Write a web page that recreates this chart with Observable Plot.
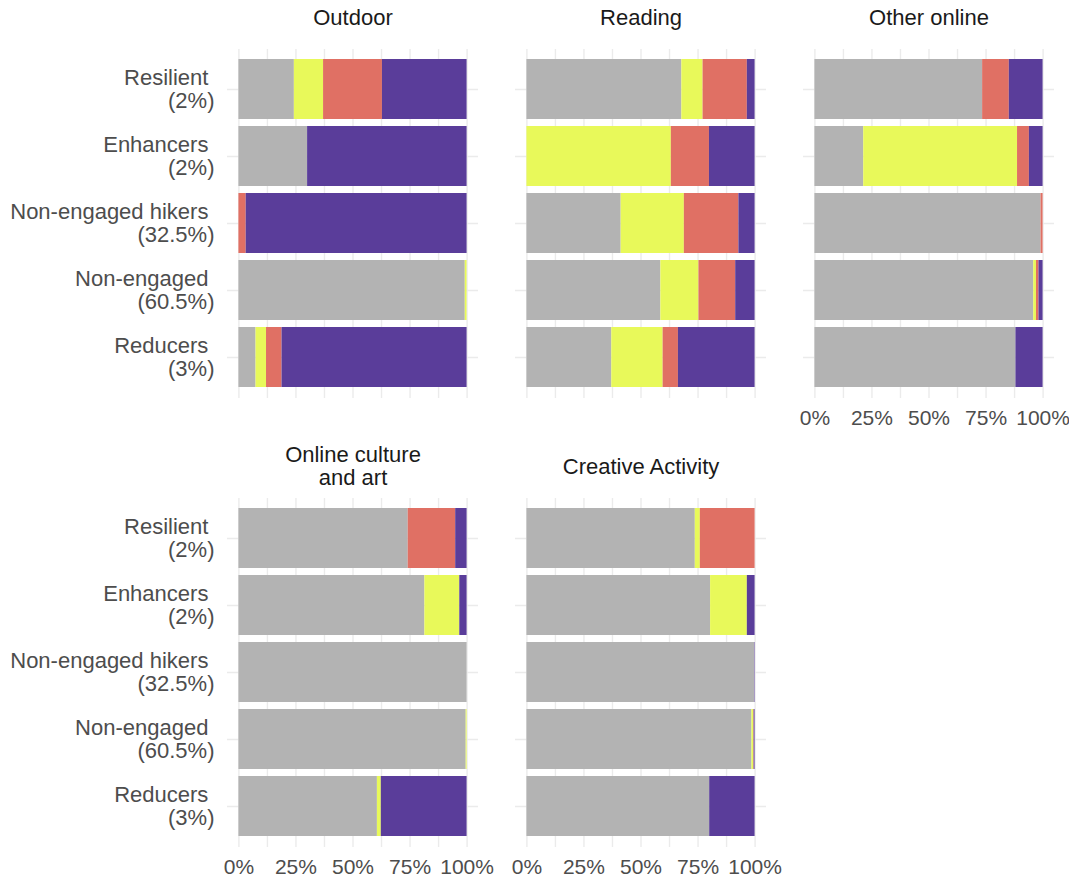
<!DOCTYPE html>
<html>
<head>
<meta charset="utf-8">
<script src="https://cdn.jsdelivr.net/npm/d3@7"></script>
<script src="https://cdn.jsdelivr.net/npm/@observablehq/plot@0.6"></script>
<style>
  body { margin: 0; background: #fff; }
</style>
</head>
<body>
<div id="chart"></div>
<script>
// Respondent groups (rows) and their share of the sample
const groups = ["Resilient", "Enhancers", "Non-engaged hikers", "Non-engaged", "Reducers"];
const groupShares = ["2%", "2%", "32.5%", "60.5%", "3%"];

// Activity panels, in reading order (three per row)
const activities = ["Outdoor", "Reading", "Other online", "Online culture\nand art", "Creative Activity"];

// Response categories stacked left to right, and their colours
const responses = ["Category 1", "Category 2", "Category 3", "Category 4"];
const responseColors = ["#b3b3b3", "#e8f95a", "#e07064", "#5a3d9a"];

// Percentages per response category (one array per category, values follow `groups`)
const outdoorValues = [
  [24.3, 30.1, 0, 99.2, 7.5],
  [12.8, 0, 0, 0.8, 4.6],
  [25.8, 0, 3.2, 0, 6.8],
  [37.1, 69.9, 96.8, 0, 81.1]
];
const readingValues = [
  [67.9, 0, 41.3, 58.7, 37.2],
  [9.3, 63.3, 27.7, 16.7, 22.5],
  [19.4, 16.7, 23.9, 16.1, 6.7],
  [3.4, 20.0, 7.1, 8.5, 33.6]
];
const otherOnlineValues = [
  [73.5, 21.4, 99.1, 95.9, 88.1],
  [0, 67.4, 0, 1.2, 0],
  [11.7, 5.2, 0.9, 1.1, 0],
  [14.8, 6.0, 0, 1.8, 11.9]
];
const onlineCultureValues = [
  [74.2, 81.5, 100, 99.6, 60.7],
  [0, 15.3, 0, 0.4, 1.7],
  [20.8, 0, 0, 0, 0],
  [5.0, 3.2, 0, 0, 37.6]
];
const creativeValues = [
  [73.8, 80.5, 99.8, 98.6, 80.1],
  [2.2, 16.1, 0, 0.8, 0],
  [24.0, 0, 0, 0.2, 0],
  [0, 3.4, 0.2, 0.4, 19.9]
];

const valuesByActivity = [outdoorValues, readingValues, otherOnlineValues, onlineCultureValues, creativeValues];

// Long table for the bars, with panel column/row for faceting
const table = [];
activities.forEach((activity, a) => {
  valuesByActivity[a].forEach((series, r) => {
    series.forEach((value, g) => {
      if (value > 0) {
        table.push({activity, col: a % 3, row: Math.floor(a / 3), group: groups[g], response: responses[r], value});
      }
    });
  });
});
const panelTitles = activities.map((title, a) => ({title, col: a % 3, row: Math.floor(a / 3)}));

const font = "'Liberation Sans', Arial, Helvetica, sans-serif";

const chart = Plot.plot({
  width: 1069,
  height: 882,
  marginLeft: 226,
  marginRight: 14,
  marginTop: 48,
  marginBottom: 34,
  style: {fontFamily: font, background: "#fff", overflow: "visible"},
  fx: {domain: [0, 1, 2], paddingInner: 0.1292, paddingOuter: 0, axis: null},
  fy: {domain: [0, 1], paddingInner: 0.2222, paddingOuter: 0, axis: null},
  x: {domain: [-5, 105]},
  y: {domain: groups, paddingInner: 0.1, paddingOuter: 0.15},
  color: {domain: responses, range: responseColors},
  marks: [
    Plot.gridX({ticks: d3.range(0, 101, 12.5), stroke: "#ebebeb", strokeOpacity: 1, strokeWidth: 1.4}),
    Plot.gridY({stroke: "#ebebeb", strokeOpacity: 1, strokeWidth: 1.4}),
    Plot.barX(table, {
      x: "value",
      y: "group",
      fill: "response",
      fx: "col",
      fy: "row",
      order: responses
    }),
    Plot.text(panelTitles, {
      fx: "col",
      fy: "row",
      text: "title",
      frameAnchor: "top",
      dy: -32,
      lineAnchor: "middle",
      lineHeight: 1.05,
      fontSize: 22,
      fill: "#1a1a1a"
    }),
    Plot.axisY({
      facetAnchor: "left",
      tickSize: 0,
      tickPadding: 13,
      fontSize: 22,
      lineHeight: 1.05,
      color: "#4d4d4d",
      label: null,
      tickFormat: (d) => `${d}\u00a0\n(${groupShares[groups.indexOf(d)]})`
    }),
    Plot.axisX({
      facetAnchor: "bottom-empty",
      ticks: [0, 25, 50, 75, 100],
      tickFormat: (d) => `${d}%`,
      tickSize: 0,
      tickPadding: 12,
      fontSize: 21,
      color: "#4d4d4d",
      label: null
    })
  ]
});

document.getElementById("chart").append(chart);
</script>
</body>
</html>
